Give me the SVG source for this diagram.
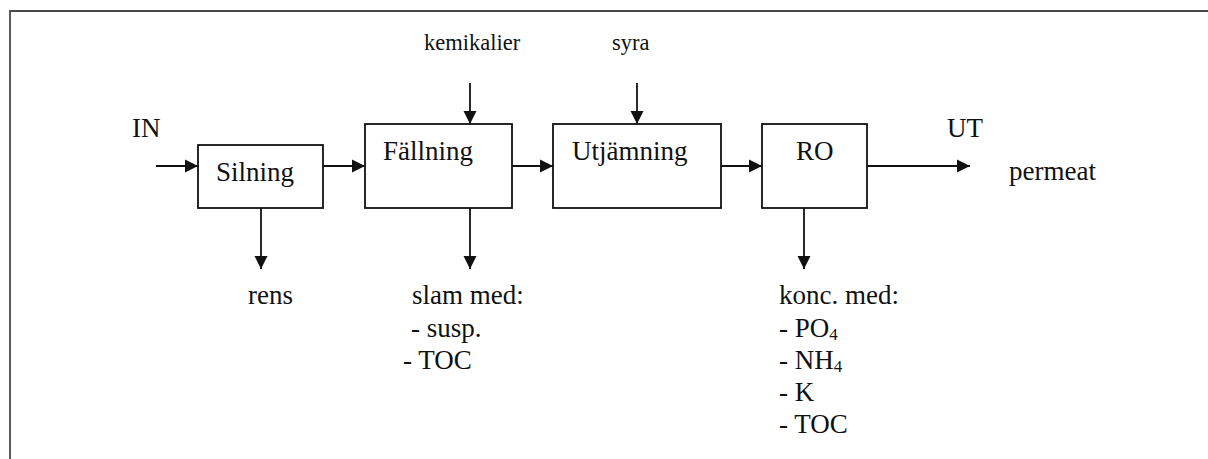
<svg xmlns="http://www.w3.org/2000/svg" width="1208" height="459" viewBox="0 0 1208 459">
  <style>
    .frame { fill: none; stroke: #4a4a4a; stroke-width: 1.8; }
    .box { fill: #ffffff; stroke: #111111; stroke-width: 1.8; }
    .flow { fill: none; stroke: #111111; stroke-width: 1.8; marker-end: url(#head); }
    .t { font-family: 'Liberation Serif', 'Times New Roman', serif; font-size: 27px; fill: #111111; }
    .ts { font-family: 'Liberation Serif', 'Times New Roman', serif; font-size: 22.5px; fill: #111111; }
    .sub { font-size: 17px; }
  </style>
  <defs>
    <!-- filled triangular arrowhead, tip on the line end -->
    <marker id="head" markerWidth="14" markerHeight="14" refX="13" refY="7" orient="auto" markerUnits="userSpaceOnUse">
      <path d="M0,0.5 L13,7 L0,13.5 Z" fill="#111111"/>
    </marker>
  </defs>

  <rect width="1208" height="459" fill="#ffffff"/>
  <path class="frame" d="M10,459 V11 H1208"/>

  <!-- process steps -->
  <g id="silning">
    <rect class="box" x="198" y="145" width="125" height="63"/>
    <text class="t" x="216" y="181">Silning</text>
  </g>
  <g id="fallning">
    <rect class="box" x="365" y="124" width="147" height="84"/>
    <text class="t" x="383" y="160">Fällning</text>
  </g>
  <g id="utjamning">
    <rect class="box" x="553" y="124" width="168" height="84"/>
    <text class="t" x="572" y="160">Utjämning</text>
  </g>
  <g id="ro">
    <rect class="box" x="762" y="124" width="105" height="84"/>
    <text class="t" x="796" y="160">RO</text>
  </g>

  <!-- flows -->
  <g id="connectors">
    <line class="flow" x1="156" y1="166" x2="198" y2="166"/>
    <line class="flow" x1="323" y1="166" x2="365" y2="166"/>
    <line class="flow" x1="512" y1="166" x2="553" y2="166"/>
    <line class="flow" x1="721" y1="166" x2="762" y2="166"/>
    <line class="flow" x1="867" y1="166" x2="970" y2="166"/>
    <line class="flow" x1="470" y1="83" x2="470" y2="124"/>
    <line class="flow" x1="637" y1="83" x2="637" y2="124"/>
    <line class="flow" x1="261" y1="208" x2="261" y2="269"/>
    <line class="flow" x1="470" y1="208" x2="470" y2="269"/>
    <line class="flow" x1="804" y1="208" x2="804" y2="269"/>
  </g>

  <!-- stream labels -->
  <g id="labels">
    <text class="t" x="132" y="137">IN</text>
    <text class="t" x="947" y="137">UT</text>
    <text class="t" x="1009" y="180">permeat</text>
    <text class="ts" x="424" y="50">kemikalier</text>
    <text class="ts" x="612" y="50">syra</text>
    <text class="t" x="248" y="304">rens</text>
    <text class="t" x="412" y="304">slam med:</text>
    <text class="t" x="411" y="337">- susp.</text>
    <text class="t" x="403" y="369">- TOC</text>
    <text class="t" x="779" y="304">konc. med:</text>
    <text class="t" x="779" y="337">- PO<tspan class="sub" dy="3">4</tspan></text>
    <text class="t" x="779" y="369">- NH<tspan class="sub" dy="3">4</tspan></text>
    <text class="t" x="779" y="401">- K</text>
    <text class="t" x="779" y="433">- TOC</text>
  </g>
</svg>
